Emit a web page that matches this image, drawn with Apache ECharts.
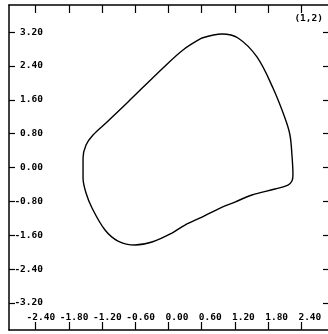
<!DOCTYPE html>
<html>
<head>
<meta charset="utf-8">
<script src="https://cdn.jsdelivr.net/npm/echarts@6/dist/echarts.min.js"></script>
<style>
  html, body { margin: 0; padding: 0; background: #fff; }
  #chart { width: 328px; height: 334px; }
</style>
</head>
<body>
<div id="chart"></div>
<script>
// tick values for both axes
var xTicks = [-2.4, -1.8, -1.2, -0.6, 0, 0.6, 1.2, 1.8, 2.4];
var yTicks = [-3.2, -2.4, -1.6, -0.8, 0, 0.8, 1.6, 2.4, 3.2];

// closed orbit (x, y)
var orbitX = [0.605, 0.966, 1.255, 1.597, 1.886, 2.103, 2.193, 2.229, 2.247, 2.229, 2.157, 1.922, 1.507, 1.200, 0.894, 0.605, 0.298, 0.063, -0.298, -0.605, -0.912, -1.146, -1.381, -1.489, -1.543, -1.543, -1.489, -1.363, -1.110, -0.731, -0.099, 0.262, 0.605];
var orbitY = [3.061, 3.156, 3.061, 2.612, 1.879, 1.170, 0.768, 0.296, -0.177, -0.319, -0.414, -0.508, -0.650, -0.816, -0.981, -1.170, -1.359, -1.548, -1.761, -1.832, -1.738, -1.478, -0.957, -0.603, -0.248, 0.225, 0.532, 0.768, 1.076, 1.548, 2.352, 2.778, 3.061];

var orbit = [];
for (var i = 0; i < orbitX.length; i++) {
    orbit.push([orbitX[i], orbitY[i]]);
}

var font = 'DejaVu Sans Mono';
var lineStyle = { color: '#000', width: 1.5 };

var myChart = echarts.init(document.getElementById('chart'));
var option = {
    animation: false,
    title: {
        text: '(1,2)',
        right: 0,
        top: 9,
        textStyle: { fontFamily: font, fontSize: 9.5, fontWeight: 'bold', color: '#000' }
    },
    grid: { left: 9, top: 5, width: 319, height: 325 },
    xAxis: [
        {
            type: 'value', position: 'bottom', min: -2.88, max: 2.88,
            splitLine: { show: false },
            axisLine: { onZero: false, lineStyle: lineStyle },
            axisTick: { inside: true, length: 8, customValues: xTicks, lineStyle: { color: '#000', width: 1.2 } },
            axisLabel: {
                inside: true, margin: 7, customValues: xTicks,
                showMinLabel: true, showMaxLabel: true,
                fontFamily: font, fontSize: 9.5, fontWeight: 'bold', color: '#000', align: 'left',
                // units digit sits on the tick
                formatter: function (v) {
                    return v < 0 ? '{n|' + v.toFixed(2) + '}' : '{p|' + v.toFixed(2) + '}';
                },
                rich: {
                    n: { fontFamily: font, fontSize: 9.5, fontWeight: 'bold', color: '#000', padding: [0, 0, 0, -9] },
                    p: { fontFamily: font, fontSize: 9.5, fontWeight: 'bold', color: '#000', padding: [0, 0, 0, -3] }
                }
            }
        },
        {
            type: 'value', position: 'top', min: -2.88, max: 2.88,
            splitLine: { show: false },
            axisLine: { onZero: false, lineStyle: lineStyle },
            axisTick: { inside: true, length: 8, customValues: xTicks, lineStyle: { color: '#000', width: 1.2 } },
            axisLabel: { show: false }
        }
    ],
    yAxis: [
        {
            type: 'value', position: 'left', min: -3.84, max: 3.84,
            splitLine: { show: false },
            axisLine: { onZero: false, lineStyle: lineStyle },
            axisTick: { inside: true, length: 6, customValues: yTicks, lineStyle: { color: '#000', width: 1.2 } },
            axisLabel: {
                inside: true, margin: 34, customValues: yTicks, align: 'right',
                showMinLabel: true, showMaxLabel: true,
                fontFamily: font, fontSize: 9.5, fontWeight: 'bold', color: '#000',
                formatter: function (v) { return v.toFixed(2); }
            }
        },
        {
            type: 'value', position: 'right', min: -3.84, max: 3.84,
            splitLine: { show: false },
            axisLine: { show: false, onZero: false },
            axisTick: { show: true, inside: true, length: 5, customValues: yTicks, lineStyle: { color: '#000', width: 1.2 } },
            axisLabel: { show: false }
        }
    ],
    series: [
        {
            type: 'line',
            data: orbit,
            smooth: 0.35,
            showSymbol: false,
            lineStyle: { color: '#000', width: 1.4 }
        }
    ]
};
myChart.setOption(option);
</script>
</body>
</html>
